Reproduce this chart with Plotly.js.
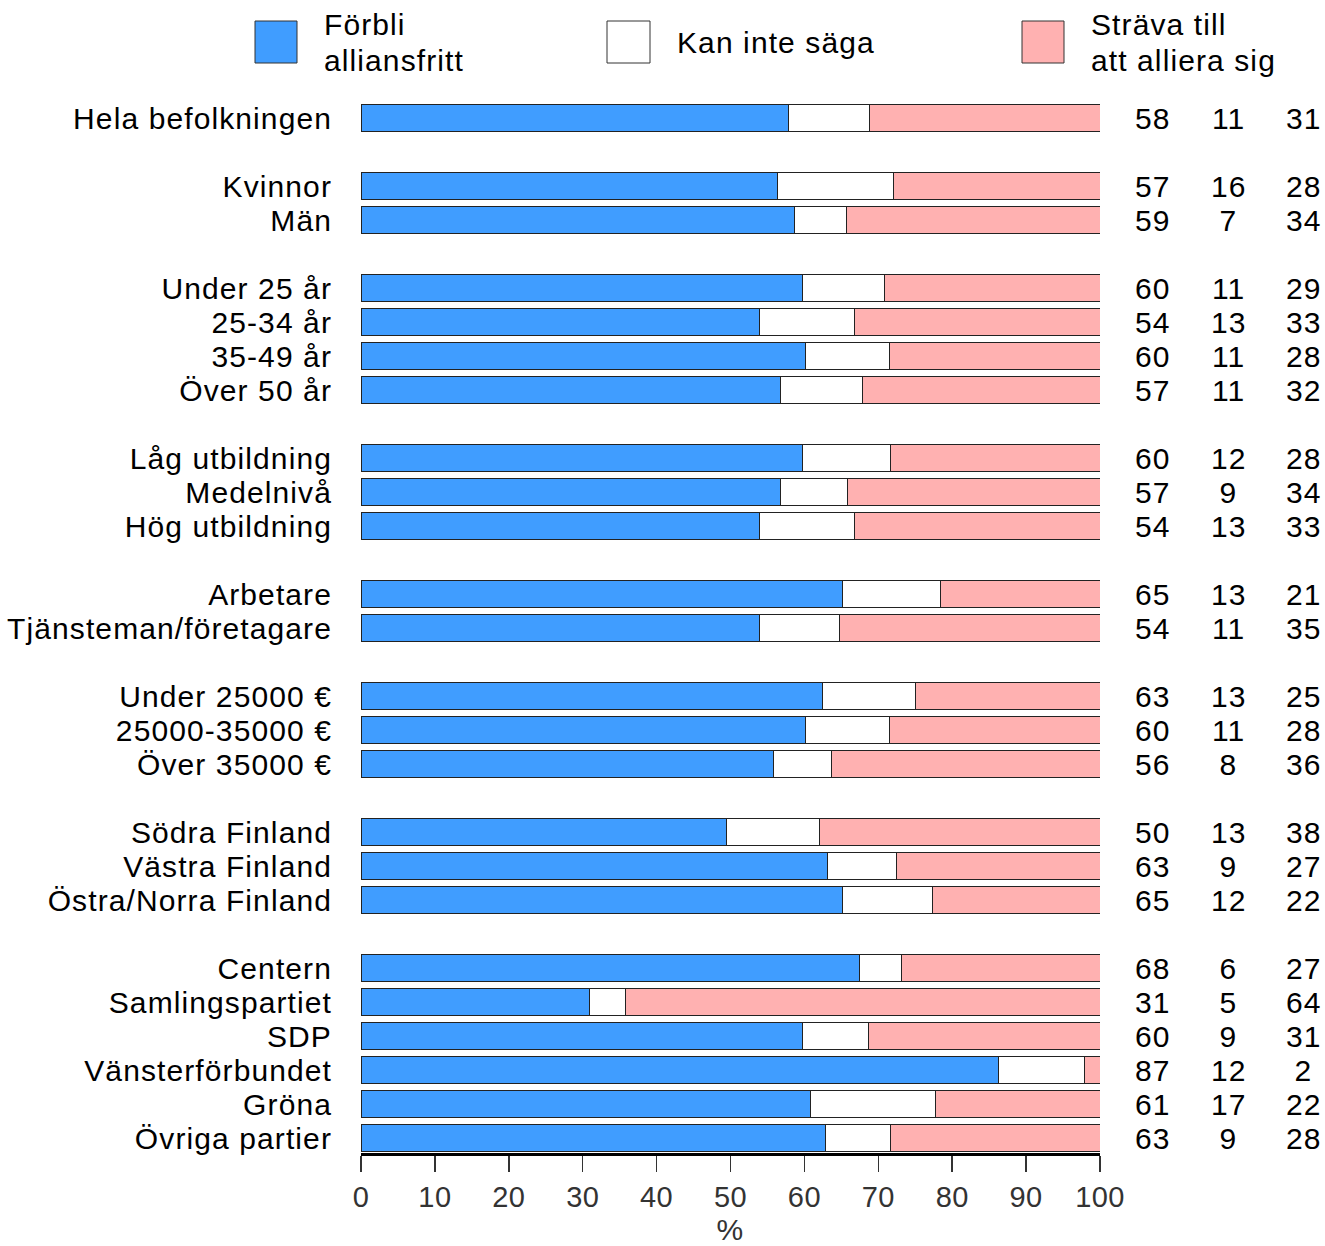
<!DOCTYPE html>
<html>
<head>
<meta charset="utf-8">
<script src="https://cdn.plot.ly/plotly-3.0.1.min.js"></script>
<style>
  html, body { margin: 0; padding: 0; background: #fff; }
  #chart { width: 1325px; height: 1246px; }
  #chart text { letter-spacing: 1.1px; }
  #chart .xtick text { letter-spacing: 0.4px; }
</style>
</head>
<body>
<div id="chart"></div>
<script>
// ---- Data ----
const categories = [
  "Hela befolkningen",
  "Kvinnor", "Män",
  "Under 25 år", "25-34 år", "35-49 år", "Över 50 år",
  "Låg utbildning", "Medelnivå", "Hög utbildning",
  "Arbetare", "Tjänsteman/företagare",
  "Under 25000 €", "25000-35000 €", "Över 35000 €",
  "Södra Finland", "Västra Finland", "Östra/Norra Finland",
  "Centern", "Samlingspartiet", "SDP", "Vänsterförbundet", "Gröna", "Övriga partier"
];
// number of categories in each group (a blank row separates groups)
const groupSizes = [1, 2, 4, 3, 2, 3, 3, 6];

const seriesNames = [["Förbli", "alliansfritt"], ["Kan inte säga"], ["Sträva till", "att alliera sig"]];

// bar lengths (%)
const forbli = [57.8, 56.4, 58.7, 59.8, 53.9, 60.1, 56.8, 59.8, 56.8, 53.9, 65.1, 53.9,
                62.4, 60.1, 55.8, 49.5, 63.1, 65.1, 67.4, 30.9, 59.8, 86.3, 60.8, 62.8];
const kanInte = [11.0, 15.7, 7.0, 11.0, 12.9, 11.4, 11.0, 11.9, 9.0, 12.9, 13.3, 10.8,
                 12.7, 11.4, 7.9, 12.6, 9.3, 12.3, 5.7, 4.9, 8.9, 11.6, 16.9, 8.9];
const strava = [31.2, 27.9, 34.3, 29.2, 33.2, 28.5, 32.2, 28.3, 34.2, 33.2, 21.6, 35.3,
                24.9, 28.5, 36.3, 37.9, 27.6, 22.6, 26.9, 64.2, 31.3, 2.1, 22.3, 28.3];

// printed values (right-hand columns)
const labelForbli = [58, 57, 59, 60, 54, 60, 57, 60, 57, 54, 65, 54, 63, 60, 56, 50, 63, 65, 68, 31, 60, 87, 61, 63];
const labelKanInte = [11, 16, 7, 11, 13, 11, 11, 12, 9, 13, 13, 11, 13, 11, 8, 13, 9, 12, 6, 5, 9, 12, 17, 9];
const labelStrava = [31, 28, 34, 29, 33, 28, 32, 28, 34, 33, 21, 35, 25, 28, 36, 38, 27, 22, 27, 64, 31, 2, 22, 28];

const xTicks = [0, 10, 20, 30, 40, 50, 60, 70, 80, 90, 100];

// ---- Layout geometry ----
const W = 1325, H = 1246;
const L = 361, R = 1100, T = 100, B = 1153;
const PW = R - L, PH = B - T;
const px = x => (x - L) / PW;
const py = y => (B - y) / PH;

// row positions with gaps between groups
const pos = [];
let p = 0;
groupSizes.forEach((n) => {
  for (let i = 0; i < n; i++) pos.push(p++);
  p++; // gap
});

const colors = ["#409dff", "#ffffff", "#ffb1b1"];
const FONT = "Arial, 'Liberation Sans', sans-serif";
const FS = 30;

const traces = [forbli, kanInte, strava].map((vals, i) => ({
  type: "bar",
  orientation: "h",
  x: vals,
  y: pos,
  name: seriesNames[i].join(" "),
  width: 0.82,
  marker: { color: colors[i], line: { color: "#222", width: 1 } },
  hoverinfo: "skip",
  showlegend: false
}));

const annotations = [];
const colX = [1152, 1228, 1303];
[labelForbli, labelKanInte, labelStrava].forEach((arr, ci) => {
  arr.forEach((v, i) => {
    annotations.push({
      xref: "paper", yref: "y", x: px(colX[ci]), y: pos[i],
      text: String(v), showarrow: false, xanchor: "center", yanchor: "middle",
      font: { family: FONT, size: FS, color: "#000" }
    });
  });
});

// custom legend
const legBoxes = [[255, 297], [607, 650], [1022, 1064]];
const legTextX = [322, 675, 1089];
const shapes = legBoxes.map((b, i) => ({
  type: "rect", xref: "paper", yref: "paper",
  x0: px(b[0]), x1: px(b[1]), y0: py(63), y1: py(21),
  fillcolor: colors[i], line: { color: "#333", width: 1 }
}));
seriesNames.forEach((lines, i) => {
  const ys = lines.length === 1 ? [43] : [25, 60];
  lines.forEach((t, j) => {
    annotations.push({
      xref: "paper", yref: "paper", x: px(legTextX[i]), y: py(ys[j]),
      text: t, showarrow: false, xanchor: "left", yanchor: "middle", align: "left",
      font: { family: FONT, size: FS, color: "#000" }
    });
  });
});

const layout = {
  width: W, height: H,
  margin: { l: L, r: W - R, t: T, b: H - B, pad: 0 },
  paper_bgcolor: "#fff", plot_bgcolor: "#fff",
  barmode: "stack",
  bargap: 0,
  showlegend: false,
  font: { family: FONT, color: "#000" },
  xaxis: {
    range: [0, 100],
    tickvals: xTicks,
    ticktext: xTicks.map(String),
    ticks: "outside", ticklen: 16, tickwidth: 1.5, tickcolor: "#333",
    showline: true, linecolor: "#000", linewidth: 3,
    showgrid: false, zeroline: false,
    tickfont: { family: FONT, size: 29, color: "#333" },
    title: { text: "%", font: { family: FONT, size: FS, color: "#333" }, standoff: 18 },
    fixedrange: true
  },
  yaxis: {
    range: [30.44, -0.53],
    tickvals: pos,
    ticktext: categories,
    ticks: "", showline: false, showgrid: false, zeroline: false,
    ticklabelstandoff: 28,
    tickfont: { family: FONT, size: FS, color: "#000" },
    fixedrange: true
  },
  shapes: shapes,
  annotations: annotations
};

Plotly.newPlot("chart", traces, layout, { displayModeBar: false, staticPlot: true });
</script>
</body>
</html>
